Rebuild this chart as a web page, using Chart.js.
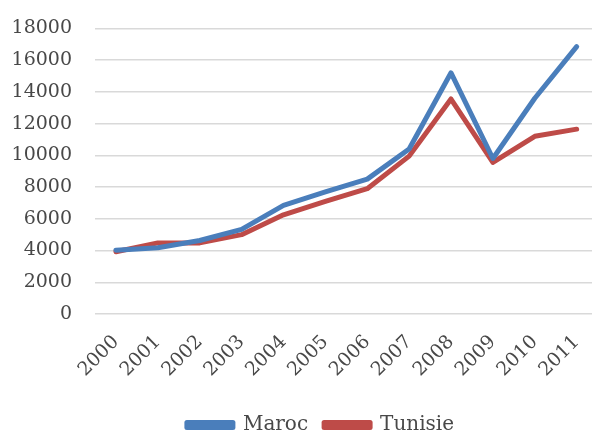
<!DOCTYPE html>
<html>
<head>
<meta charset="utf-8">
<script src="https://cdn.jsdelivr.net/npm/chart.js@4.4.1/dist/chart.umd.min.js"></script>
<style>
  html, body { margin: 0; padding: 0; background: #fff; overflow: hidden; }
  #wrap { position: relative; width: 592px; height: 430px; overflow: hidden; }
  #box { position: absolute; left: 0; top: -6px; width: 610px; height: 451px; }
</style>
</head>
<body>
<div id="wrap"><div id="box"><canvas id="c"></canvas></div></div>
<script>
// Years on the horizontal axis
const years = ['2000','2001','2002','2003','2004','2005','2006','2007','2008','2009','2010','2011'];
// Series values
const maroc   = [4020, 4170, 4630, 5330, 6850, 7700, 8500, 10400, 15200, 9800, 13600, 16850];
const tunisie = [3920, 4480, 4480, 5000, 6250, 7100, 7900, 9950, 13550, 9550, 11200, 11650];
// Vertical axis range
const yMin = 0, yMax = 18000, yStep = 2000;

const textColor = '#484848';
const fontFamily = '"DejaVu Serif", "Liberation Serif", serif';

// Nudge the bottom legend to the right so it sits under the plot area
const legendShift = {
  id: 'legendShift',
  afterLayout(chart) {
    const lg = chart.legend;
    if (lg) { lg.left += 18; lg.right += 18; }
  }
};

new Chart(document.getElementById('c'), {
  type: 'line',
  data: {
    labels: years,
    datasets: [
      { label: 'Maroc', data: maroc, borderColor: '#4A7EBB', backgroundColor: '#4A7EBB',
        borderWidth: 5, pointRadius: 0, tension: 0, borderCapStyle: 'round', borderJoinStyle: 'round' },
      { label: 'Tunisie', data: tunisie, borderColor: '#BE4B48', backgroundColor: '#BE4B48',
        borderWidth: 5, pointRadius: 0, tension: 0, borderCapStyle: 'round', borderJoinStyle: 'round' }
    ]
  },
  options: {
    responsive: true,
    maintainAspectRatio: false,
    animation: false,
    layout: { padding: { top: 1, right: 5, left: 0, bottom: 0 } },
    plugins: {
      tooltip: { enabled: false },
      legend: {
        position: 'bottom',
        labels: {
          color: textColor,
          font: { family: fontFamily, size: 20 },
          boxWidth: 46, boxHeight: 5, padding: 16
        }
      }
    },
    scales: {
      x: {
        offset: true,
        grid: { display: false, drawTicks: false },
        border: { display: false },
        afterFit: (s) => { s.height = 85; },
        ticks: { color: textColor, font: { family: fontFamily, size: 19 },
                 minRotation: 45, maxRotation: 45, padding: 17, autoSkip: false }
      },
      y: {
        min: yMin, max: yMax,
        grid: { color: '#D9D9D9', lineWidth: 1.5, drawTicks: false },
        border: { display: false },
        afterFit: (s) => { s.width = 95; },
        ticks: { stepSize: yStep, color: textColor, font: { family: fontFamily, size: 19 }, padding: 23,
                 callback: (v) => String(v) }
      }
    }
  },
  plugins: [legendShift]
});
</script>
</body>
</html>
